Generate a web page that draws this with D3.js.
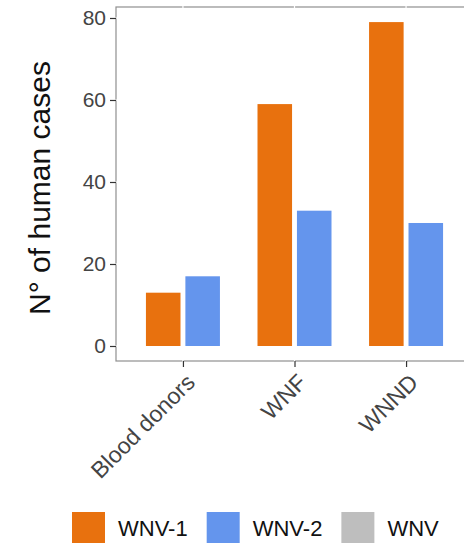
<!DOCTYPE html>
<html>
<head>
<meta charset="utf-8">
<script src="https://cdn.jsdelivr.net/npm/d3@7"></script>
<style>
  body { margin: 0; background: #fff; }
  svg { display: block; font-family: "Liberation Sans", Arial, sans-serif; }
</style>
</head>
<body>
<div id="chart"></div>
<script>
// data
var categories = ["Blood donors", "WNF", "WNND"];
var series = ["WNV-1", "WNV-2"];
var wnv1 = [13, 59, 79];
var wnv2 = [17, 33, 30];
var legendLabels = ["WNV-1", "WNV-2", "WNV"];
var colors = ["#e8710e", "#6495ed", "#bebebe"];
var yTicks = [0, 20, 40, 60, 80];

var svgWidth = 464;
var svgHeight = 543;

// panel box (right edge falls just outside the picture)
var panel = { left: 116, top: 7, right: 473, bottom: 361 };

var svg = d3.select("#chart")
  .append("svg")
  .attr("width", svgWidth)
  .attr("height", svgHeight);

var rows = categories.map(function(c, i) {
  return { cat: c, values: [wnv1[i], wnv2[i]] };
});

var x = d3.scalePoint()
  .domain(categories)
  .range([panel.left, panel.right])
  .padding(0.6);

var xInner = d3.scaleBand()
  .domain(series)
  .range([-37, 37])
  .paddingInner(0.124);

var y = d3.scaleLinear()
  .domain([-3.66, 82.68])
  .range([panel.bottom, panel.top]);

// panel border
svg.append("rect")
  .attr("x", panel.left)
  .attr("y", panel.top)
  .attr("width", panel.right - panel.left)
  .attr("height", panel.bottom - panel.top)
  .attr("fill", "#fff")
  .attr("stroke", "#8f8f8f")
  .attr("stroke-width", 1.2);

// white grid lines (they cut the border a little)
svg.append("g").selectAll("line")
  .data(yTicks)
  .enter()
  .append("line")
  .attr("x1", panel.left - 1)
  .attr("x2", panel.right + 1)
  .attr("y1", d => y(d))
  .attr("y2", d => y(d))
  .attr("stroke", "#fff")
  .attr("stroke-width", 1.2);

svg.append("g").selectAll("line")
  .data(categories)
  .enter()
  .append("line")
  .attr("x1", d => x(d))
  .attr("x2", d => x(d))
  .attr("y1", panel.top - 1)
  .attr("y2", panel.bottom + 1)
  .attr("stroke", "#fff")
  .attr("stroke-width", 1.2);

// bars
var groups = svg.append("g").selectAll("g")
  .data(rows)
  .enter()
  .append("g")
  .attr("transform", d => `translate(${x(d.cat)},0)`);

groups.selectAll("rect")
  .data(d => d.values.map((v, j) => ({ key: series[j], value: v, j: j })))
  .enter()
  .append("rect")
  .attr("x", d => xInner(d.key))
  .attr("width", xInner.bandwidth())
  .attr("y", d => y(d.value))
  .attr("height", d => y(0) - y(d.value))
  .attr("fill", d => colors[d.j]);

// y axis
var leftAxis = d3.axisLeft(y)
  .tickValues(yTicks)
  .tickSize(6)
  .tickPadding(4);

var yAxis = svg.append("g")
  .attr("transform", `translate(${panel.left},0)`)
  .call(leftAxis);
yAxis.select(".domain").remove();
yAxis.selectAll("line").attr("stroke", "#333").attr("stroke-width", 1.2);
yAxis.selectAll("text")
  .attr("fill", "#444")
  .attr("font-size", 21)
  .attr("font-family", "Liberation Sans, Arial, sans-serif");

// x axis
var bottomAxis = d3.axisBottom(x)
  .tickSize(6)
  .tickPadding(4);

var xAxis = svg.append("g")
  .attr("transform", `translate(0,${panel.bottom})`)
  .call(bottomAxis);
xAxis.select(".domain").remove();
xAxis.selectAll("line").attr("stroke", "#333").attr("stroke-width", 1.2);
xAxis.selectAll("text")
  .attr("fill", "#444")
  .attr("font-size", 23)
  .attr("font-family", "Liberation Sans, Arial, sans-serif")
  .attr("text-anchor", "end")
  .attr("dy", null)
  .attr("y", 0)
  .attr("transform", "translate(1,11) rotate(-45)")
  .attr("dominant-baseline", "hanging");

// y axis title
svg.append("text")
  .attr("transform", `translate(50,${(panel.top + panel.bottom) / 2 + 4}) rotate(-90)`)
  .attr("text-anchor", "middle")
  .attr("font-size", 30)
  .attr("fill", "#111")
  .text("N\u00b0 of human cases");

// legend
var legend = svg.append("g");
var lx = 72;
legendLabels.forEach(function(lab, i) {
  legend.append("rect")
    .attr("x", lx)
    .attr("y", 512)
    .attr("width", 33)
    .attr("height", 40)
    .attr("fill", colors[i]);
  var t = legend.append("text")
    .attr("x", lx + 46)
    .attr("y", 536)
    .attr("font-size", 22)
    .attr("fill", "#111")
    .text(lab);
  lx = lx + 46 + t.node().getComputedTextLength() + 19;
});
</script>
</body>
</html>
